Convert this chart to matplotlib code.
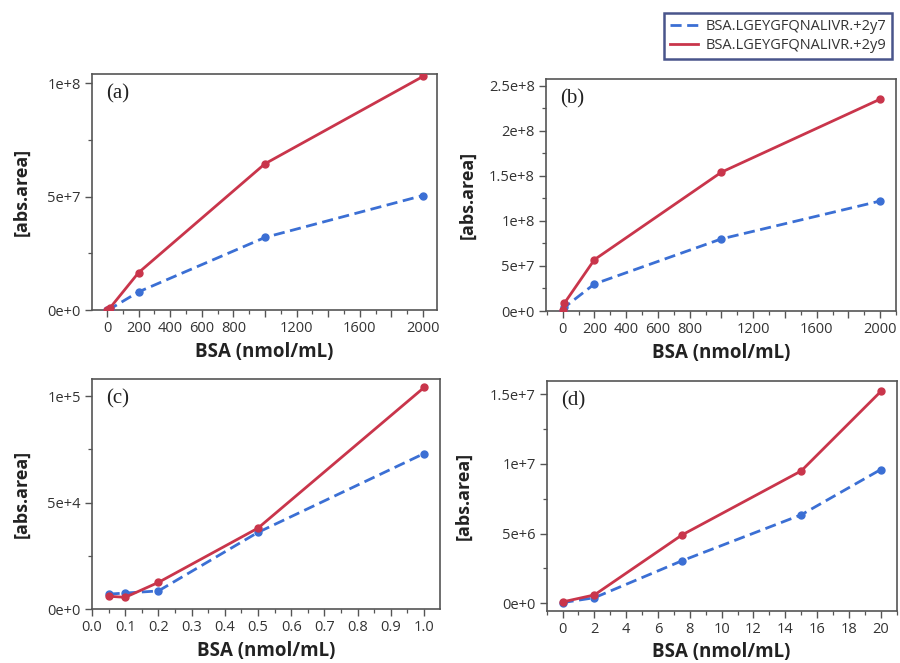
import matplotlib
matplotlib.use("Agg")
import matplotlib.pyplot as plt
from matplotlib.ticker import FixedLocator, MultipleLocator, FixedFormatter

# ---- data ----
series_names = ["BSA.LGEYGFQNALIVR.+2y7", "BSA.LGEYGFQNALIVR.+2y9"]

a_x = [0, 20, 200, 1000, 2000]
a_y7 = [0, 5e5, 8.0e6, 3.2e7, 5.05e7]
a_y9 = [0, 1.0e6, 1.65e7, 6.45e7, 1.03e8]

b_x = [0, 10, 200, 1000, 2000]
b_y7 = [0, 4.0e6, 3.0e7, 8.0e7, 1.22e8]
b_y9 = [1.0e6, 8.5e6, 5.7e7, 1.54e8, 2.35e8]

c_x = [0.05, 0.1, 0.2, 0.5, 1.0]
c_y7 = [7000, 7500, 8500, 36000, 73000]
c_y9 = [6000, 5500, 12500, 38000, 104000]

d_x = [0, 2, 7.5, 15, 20]
d_y7 = [5e4, 4.0e5, 3.05e6, 6.35e6, 9.6e6]
d_y9 = [1.0e5, 6.0e5, 4.9e6, 9.5e6, 1.52e7]

a_xticks = [0, 200, 400, 600, 800, 1000, 1200, 1400, 1600, 1800, 2000]
a_xlabels = ["0", "200", "400", "600", "800", "", "1200", "", "1600", "", "2000"]
a_yticks = [0, 5e7, 1e8]
a_ylabels = ["0e+0", "5e+7", "1e+8"]

b_xticks = a_xticks
b_xlabels = a_xlabels
b_yticks = [0, 5e7, 1e8, 1.5e8, 2e8, 2.5e8]
b_ylabels = ["0e+0", "5e+7", "1e+8", "1.5e+8", "2e+8", "2.5e+8"]

c_xticks = [0.0, 0.1, 0.2, 0.3, 0.4, 0.5, 0.6, 0.7, 0.8, 0.9, 1.0]
c_xlabels = ["0.0", "0.1", "0.2", "0.3", "0.4", "0.5", "0.6", "0.7", "0.8", "0.9", "1.0"]
c_yticks = [0, 5e4, 1e5]
c_ylabels = ["0e+0", "5e+4", "1e+5"]

d_xticks = [0, 2, 4, 6, 8, 10, 12, 14, 16, 18, 20]
d_xlabels = ["0", "2", "4", "6", "8", "10", "12", "14", "16", "18", "20"]
d_yticks = [0, 5e6, 1e7, 1.5e7]
d_ylabels = ["0e+0", "5e+6", "1e+7", "1.5e+7"]

panel_letters = ["(a)", "(b)", "(c)", "(d)"]

# ---- style ----
BLUE = "#3b6fd4"
RED = "#c9354b"
SPINE = "#555555"
TXT = "#333333"

fig = plt.figure(figsize=(9, 6.63), dpi=100)

panels = [
    dict(rect=[0.1022, 0.5324, 0.3833, 0.356], x=a_x, y7=a_y7, y9=a_y9,
         xlim=(-95, 2089), ylim=(0, 1.041e8), xt=a_xticks, xl=a_xlabels,
         xminor=100, yt=a_yticks, yl=a_ylabels, yminor=2.5e7, ylp=12),
    dict(rect=[0.6067, 0.5309, 0.3889, 0.350], x=b_x, y7=b_y7, y9=b_y9,
         xlim=(-105, 2100), ylim=(0, 2.574e8), xt=b_xticks, xl=b_xlabels,
         xminor=100, yt=b_yticks, yl=b_ylabels, yminor=2.5e7, ylp=9),
    dict(rect=[0.1022, 0.0814, 0.3867, 0.347], x=c_x, y7=c_y7, y9=c_y9,
         xlim=(0, 1.048), ylim=(0, 1.08e5), xt=c_xticks, xl=c_xlabels,
         xminor=0.05, yt=c_yticks, yl=c_ylabels, yminor=2.5e4, ylp=12),
    dict(rect=[0.6074, 0.0789, 0.3889, 0.347], x=d_x, y7=d_y7, y9=d_y9,
         xlim=(-1.0, 21.0), ylim=(-5.3e5, 1.598e7), xt=d_xticks, xl=d_xlabels,
         xminor=1, yt=d_yticks, yl=d_ylabels, yminor=2.5e6, ylp=12),
]

handles = None
for i, p in enumerate(panels):
    ax = fig.add_axes(p["rect"])
    l7, = ax.plot(p["x"], p["y7"], color=BLUE, lw=2.0, ls=(0, (4, 2)),
                  marker="o", ms=5, zorder=3)
    l9, = ax.plot(p["x"], p["y9"], color=RED, lw=2.0, ls="-",
                  marker="o", ms=5, zorder=4)
    handles = [l7, l9]
    ax.set_xlim(*p["xlim"])
    ax.set_ylim(*p["ylim"])
    ax.xaxis.set_major_locator(FixedLocator(p["xt"]))
    ax.xaxis.set_major_formatter(FixedFormatter(p["xl"]))
    ax.xaxis.set_minor_locator(MultipleLocator(p["xminor"]))
    ax.yaxis.set_major_locator(FixedLocator(p["yt"]))
    ax.yaxis.set_major_formatter(FixedFormatter(p["yl"]))
    ax.yaxis.set_minor_locator(MultipleLocator(p["yminor"]))
    ax.tick_params(which="major", direction="out", length=5, width=1.0,
                   color=SPINE, labelsize=10.5, labelcolor=TXT, pad=3)
    ax.tick_params(which="minor", direction="out", length=3, width=0.9,
                   color=SPINE)
    for lab in ax.get_xticklabels() + ax.get_yticklabels():
        lab.set_family("Open Sans")
    for s in ax.spines.values():
        s.set_color(SPINE)
        s.set_linewidth(1.2)
    ax.set_xlabel("BSA (nmol/mL)", fontsize=13.5, fontweight="bold",
                  family="Open Sans", color="#222222", labelpad=4)
    ax.set_ylabel("[abs.area]", fontsize=13, fontweight="bold",
                  family="Open Sans", color="#222222", labelpad=p["ylp"])
    ax.text(0.04, 0.955, panel_letters[i], transform=ax.transAxes,
            ha="left", va="top", fontsize=15, family="Liberation Serif",
            color="#222222")

leg = fig.legend(handles, series_names, loc="upper right",
                 bbox_to_anchor=(0.991, 0.980), borderaxespad=0.0,
                 frameon=True, fancybox=False,
                 prop={"family": "Open Sans", "size": 10.5},
                 handlelength=1.9, borderpad=0.4, labelspacing=0.25,
                 handletextpad=0.5, edgecolor="#1c2a6e")
leg.get_frame().set_linewidth(1.8)
for line in leg.get_lines():
    line.set_marker("")
for t in leg.get_texts():
    t.set_color(TXT)

fig.savefig("out.png", dpi=100)
